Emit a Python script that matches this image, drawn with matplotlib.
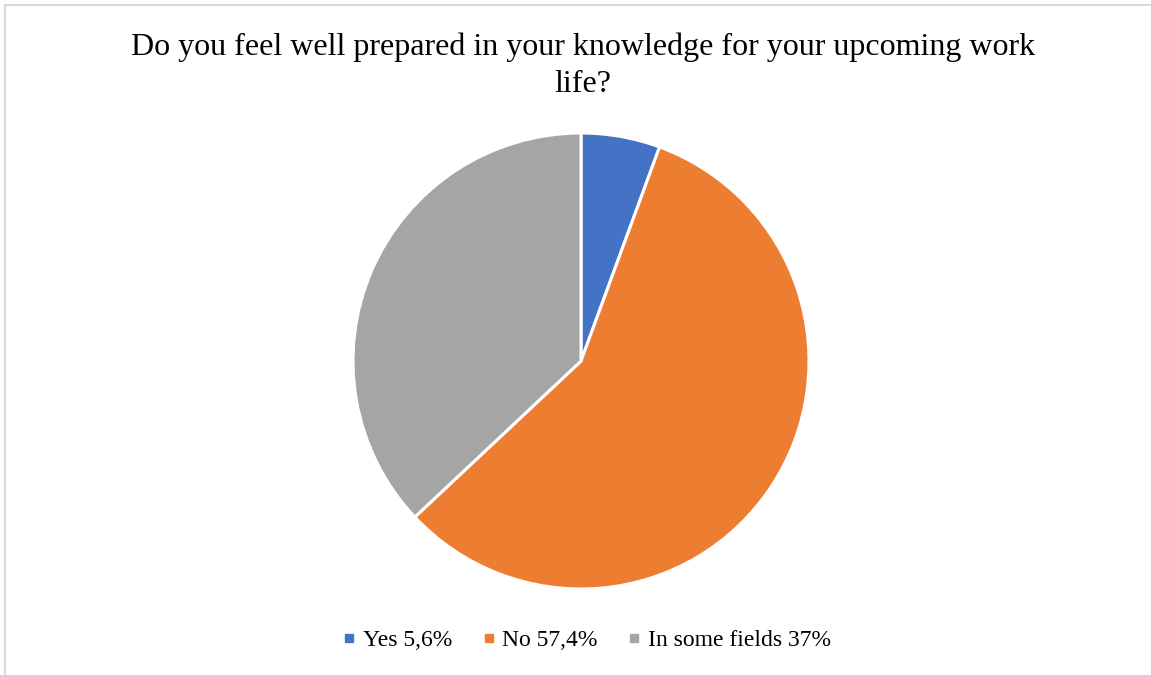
import matplotlib
matplotlib.use("Agg")
import matplotlib.pyplot as plt
from matplotlib.lines import Line2D
from matplotlib.patches import Rectangle

title_lines = ["Do you feel well prepared in your knowledge for your upcoming work", "life?"]
labels = ["Yes 5,6%", "No 57,4%", "In some fields 37%"]
values = [5.6, 57.4, 37.0]
colors = ["#4472C4", "#ED7D31", "#A5A5A5"]

W, H = 1151, 675
fig = plt.figure(figsize=(W / 100, H / 100), dpi=100)
fig.patch.set_facecolor("white")

# outer border
fig.patches.append(Rectangle((5 / W, -0.01), 1.02, (H - 5) / H + 0.01, transform=fig.transFigure,
                             fill=False, edgecolor="#D9D9D9", linewidth=1.5))

cx, cy, r = 581, 361, 228
ax = fig.add_axes([(cx - r) / W, (H - cy - r) / H, 2 * r / W, 2 * r / H])
ax.pie(values, colors=colors, startangle=90, counterclock=False, radius=1,
       wedgeprops=dict(edgecolor="white", linewidth=2.2))
ax.set_xlim(-1, 1)
ax.set_ylim(-1, 1)
ax.set_aspect("equal")
ax.axis("off")

for line, base in zip(title_lines, [55, 92]):
    fig.text(583 / W, 1 - base / H, line, ha="center", va="baseline", fontsize=23.0,
             family="Liberation Serif")

handles = [Line2D([0], [0], marker="s", linestyle="none", markersize=5.5,
                  markerfacecolor=c, markeredgecolor=c) for c in colors]
fig.legend(handles, labels, loc="center", bbox_to_anchor=(587 / W, 1 - 640 / H), ncol=3,
           frameon=False, prop={"family": "Liberation Serif", "size": 17},
           handlelength=0.5, handletextpad=0.32, columnspacing=1.3, borderpad=0)

fig.savefig("out.png", dpi=100)
